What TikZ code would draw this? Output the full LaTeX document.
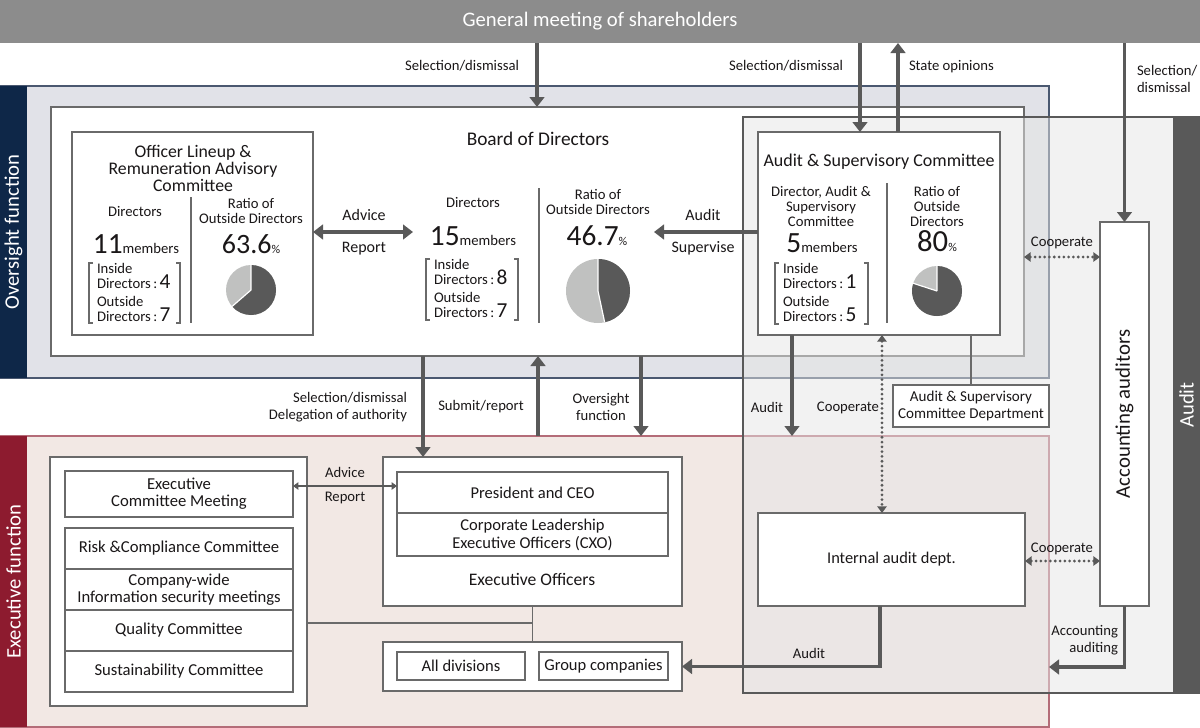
\documentclass[tikz,border=0pt]{standalone}
\usepackage{fontspec}
\setmainfont{Carlito}
\usetikzlibrary{arrows.meta}
\definecolor{gmgray}{HTML}{8C8C8C}
\definecolor{navy}{HTML}{0E2748}
\definecolor{ovfill}{HTML}{E1E2E8}
\definecolor{ovline}{HTML}{4A5870}
\definecolor{crimson}{HTML}{8D1B2F}
\definecolor{exfill}{HTML}{F2E8E4}
\definecolor{exline}{HTML}{B46C78}
\definecolor{darkg}{HTML}{595959}
\definecolor{boxline}{HTML}{6A6A6A}
\definecolor{pielight}{HTML}{C0C1C0}
\definecolor{txt}{HTML}{1A1718}
\definecolor{audfill}{HTML}{E6E6E6}
\newcommand\fz[2]{\fontsize{#1}{#2}\selectfont}
\newcommand\mkbox[7][]{\node[#1,minimum width={(#5-#3)*0.75pt},minimum height={(#6-#4)*0.75pt}] (#2) at ({(#3+#5)/2},{(#4+#6)/2}) {#7};}
\newcommand\mypie[4]{%
  \fill[pielight] (#1,#2) circle[radius=#3];
  \fill[darkg] (#1,#2) -- ++(-90:#3) arc[start angle=-90,end angle=#4,radius=#3] -- cycle;
  \draw[white,line width=0.9pt] (#1,#2) -- ++(-90:#3) (#1,#2) -- ++(#4:#3);}
\begin{document}
\begin{tikzpicture}[x=0.75pt,y=-0.75pt,
  every node/.style={inner sep=0pt,outer sep=0pt,text=txt},
  box/.style={draw=boxline,line width=0.9pt,fill=white},
  thinl/.style={draw=boxline,line width=0.9pt},
  lab/.style={font=\fz{11}{12.75}},
  labb/.style={font=\fz{12}{14}},
  lab2/.style={font=\fz{11}{11.25}},
  bigarr/.style={draw=darkg,line width=2.6pt,-{Triangle[length=7.5pt,width=11pt]}},
  bigarrb/.style={draw=darkg,line width=2.6pt,{Triangle[length=7.5pt,width=11pt]}-{Triangle[length=7.5pt,width=11pt]}},
  dotarr/.style={draw=darkg,line width=2.3pt,dash pattern=on 0pt off 3.6pt,line cap=round,{Triangle[length=5pt,width=7pt]}-{Triangle[length=5pt,width=7pt]}},
  thinarr/.style={draw=darkg,line width=0.8pt,{Triangle[length=4pt,width=5.5pt]}-{Triangle[length=4pt,width=5.5pt]}},
  rot/.style={rotate=90,font=\fz{15.5}{18}}]
\path[use as bounding box,fill=white] (0,0) rectangle (1200,728);
% x coordinates
\coordinate (x423) at (423,0);
\coordinate (x537) at (537,0);
\coordinate (x538) at (538,0);
\coordinate (x641) at (641,0);
\coordinate (x792) at (792,0);
\coordinate (x860) at (860,0);
\coordinate (x880) at (880,0);
\coordinate (x882) at (882,0);
\coordinate (x898) at (898,0);
\coordinate (x971) at (971,0);
\coordinate (y257) at (0,257);
\coordinate (y486) at (0,486);
\coordinate (y561) at (0,561);
\coordinate (y623) at (0,623);
\coordinate (y667) at (0,667);
% general meeting
\mkbox[fill=gmgray,text=white,font=\fz{15.5}{18}]{gm}{0}{0}{1200}{43}{General meeting of shareholders}
% regions
\mkbox[fill=ovfill,draw=ovline,line width=0.9pt]{ovreg}{0}{86}{1049}{378}{}
\mkbox[fill=navy]{ovband}{0}{86}{27}{378}{}
\node[rot,text=white] at (ovband) {Oversight function};
\mkbox[fill=exfill,draw=exline,line width=0.9pt]{exreg}{0}{436}{1049}{727}{}
\mkbox[fill=crimson]{exband}{0}{436}{27}{727}{}
\node[rot,text=white] at (exband) {Executive function};
% board of directors
\mkbox[box]{bod}{51}{107}{1024}{356}{}
\node[font=\fz{14.5}{17},anchor=base] at (538,145) {Board of Directors};
% officer lineup committee
\mkbox[box]{olr}{72}{132}{313}{335}{}
\node[font=\fz{13.3}{12.75},align=center] at (193,168) {Officer Lineup \&\\Remuneration Advisory\\Committee};
\node[lab2,anchor=base] at (135,216) {Directors};
\node[anchor=base] at (136,253) {\fz{22}{22}11\fz{11}{11}members};
\draw[thinl] (93,263) -- (89,263) -- (89,323) -- (93,323);
\draw[thinl] (176,263) -- (180,263) -- (180,323) -- (176,323);
\node[lab2,anchor=base west] at (97,273) {Inside};
\node[lab2,anchor=base west] at (97,288) {Directors\,:\,{\fz{16}{16}4}};
\node[lab2,anchor=base west] at (97,306) {Outside};
\node[lab2,anchor=base west] at (97,321) {Directors\,:\,{\fz{16}{16}7}};
\draw[thinl] (191,197) -- (191,323);
\node[lab2,align=center] at (251,211) {Ratio of\\Outside Directors};
\node[anchor=base] at (251,253) {\fz{21}{21}63.6\fz{9}{9}\%};
\mypie{251}{290}{25}{139}
% board centre
\node[lab2,anchor=base] at (473,207) {Directors};
\node[anchor=base] at (473,245) {\fz{22}{22}15\fz{11}{11}members};
\draw[thinl] (430,259) -- (426,259) -- (426,320) -- (430,320);
\draw[thinl] (514,259) -- (518,259) -- (518,320) -- (514,320);
\node[lab2,anchor=base west] at (434,269) {Inside};
\node[lab2,anchor=base west] at (434,284) {Directors\,:\,{\fz{16}{16}8}};
\node[lab2,anchor=base west] at (434,302) {Outside};
\node[lab2,anchor=base west] at (434,317) {Directors\,:\,{\fz{16}{16}7}};
\draw[thinl] (539,188) -- (539,323);
\node[lab2,align=center] at (598,202) {Ratio of\\Outside Directors};
\node[anchor=base] at (597,245) {\fz{22}{22}46.7\fz{9}{9}\%};
\mypie{598}{291}{32}{78}
% audit overlay region
\mkbox[fill=audfill,fill opacity=0.5,draw=darkg,line width=0.9pt]{audreg}{743}{117}{1200}{693}{}
\mkbox[fill=darkg]{audband}{1173}{117}{1200}{693}{}
\node[rot,text=white] at (audband) {Audit};
% audit & supervisory committee
\mkbox[box]{asc}{758}{132}{1000}{335}{}
\node[font=\fz{13.5}{16},anchor=base] at (879,166) {Audit \& Supervisory Committee};
\node[lab2,align=center] at (821,206) {Director, Audit \&\\Supervisory\\Committee};
\node[anchor=base] at (822,252) {\fz{22}{22}5\fz{11}{11}members};
\draw[thinl] (779,263) -- (775,263) -- (775,324) -- (779,324);
\draw[thinl] (864,263) -- (868,263) -- (868,324) -- (864,324);
\node[lab2,anchor=base west] at (783,273) {Inside};
\node[lab2,anchor=base west] at (783,288) {Directors\,:\,{\fz{16}{16}1}};
\node[lab2,anchor=base west] at (783,306) {Outside};
\node[lab2,anchor=base west] at (783,321) {Directors\,:\,{\fz{16}{16}5}};
\draw[thinl] (887,183) -- (887,323);
\node[lab2,align=center] at (937,206) {Ratio of\\Outside\\Directors};
\node[anchor=base] at (937,251) {\fz{23}{23}80\fz{9}{9}\%};
\mypie{937}{291}{25}{198}
% audit side boxes
\mkbox[box,font=\fz{11.3}{13},align=center]{dept}{893}{385}{1049}{427}{Audit \& Supervisory\\Committee Department}
\mkbox[box,font=\fz{12.3}{14}]{ia}{758}{513}{1025}{606}{Internal audit dept.}
\mkbox[box]{acc}{1100}{222}{1149}{606}{}
\node[rotate=90,font=\fz{15.6}{18}] at (acc) {Accounting auditors};
% executive function boxes
\mkbox[box]{lg}{50}{457}{307}{706}{}
\mkbox[box,font=\fz{12.5}{12.75},align=center]{ecm}{65}{471}{293}{517}{Executive\\Committee Meeting}
\mkbox[box,font=\fz{12.5}{13}]{rcc}{65}{528}{293}{569}{Risk \&Compliance Committee}
\mkbox[box,font=\fz{12.5}{13.2},align=center]{isc}{65}{569}{293}{610}{Company-wide\\Information security meetings}
\mkbox[box,font=\fz{12.5}{13}]{qc}{65}{610}{293}{651}{Quality Committee}
\mkbox[box,font=\fz{12.5}{13}]{sc}{65}{651}{293}{692}{Sustainability Committee}
\mkbox[box]{eo}{383}{457}{682}{606}{}
\mkbox[box,font=\fz{12.4}{13.5}]{pres}{397}{472}{668}{513}{President and CEO}
\mkbox[box,font=\fz{12.4}{13.5},align=center]{cxo}{397}{513}{668}{556}{Corporate Leadership\\Executive Officers (CXO)}
\node[font=\fz{13.2}{15},anchor=base] at (532,585) {Executive Officers};
\mkbox[box]{bot}{383}{642}{682}{691}{}
\mkbox[box,font=\fz{12.4}{13.5}]{alldiv}{397}{652}{525}{680}{All divisions}
\mkbox[box,font=\fz{12.4}{13.5}]{grp}{539}{652}{668}{680}{Group companies}
\draw[thinl] (lg.east |- y623) -- (eo.south |- y623);
\draw[thinl] (eo.south) -- (bot.north);
% connectors top
\draw[bigarr] (x537 |- gm.south) -- (x537 |- bod.north);
\draw[bigarr] (x860 |- gm.south) -- (x860 |- asc.north);
\draw[bigarr] (x898 |- asc.north) -- (x898 |- gm.south);
\draw[bigarr] (acc.north |- gm.south) -- (acc.north);
\node[lab,anchor=base east] at (519,70) {Selection/dismissal};
\node[lab,anchor=base east] at (843,70) {Selection/dismissal};
\node[lab,anchor=base west] at (909,70) {State opinions};
\node[lab,anchor=base west] at (1137,75) {Selection/};
\node[lab,anchor=base west] at (1137,92) {dismissal};
% board level arrows
\coordinate (advR) at (413,232);
\draw[bigarrb] (olr.east |- advR) -- (advR);
\node[labb,anchor=base] at (364,220) {Advice};
\node[labb,anchor=base] at (364,252) {Report};
\coordinate (audL) at (654,232);
\draw[bigarr] (asc.west |- audL) -- (audL);
\node[labb,anchor=base] at (703,220) {Audit};
\node[labb,anchor=base] at (703,252) {Supervise};
% board to executive
\draw[bigarr] (x423 |- bod.south) -- (x423 |- eo.north);
\draw[bigarr] (x538 |- exreg.north) -- (x538 |- bod.south);
\draw[bigarr] (x641 |- bod.south) -- (x641 |- exreg.north);
\node[lab,align=right,anchor=east] at (407,407) {Selection/dismissal\\Delegation of authority};
\node[lab] at (481,407) {Submit/report};
\node[lab,align=center] at (601,407) {Oversight\\function};
% audit connectors
\draw[bigarr] (x792 |- asc.south) -- (x792 |- exreg.north);
\node[lab] at (767,407) {Audit};
\draw[dotarr] (x882 |- asc.south) -- (x882 |- ia.north);
\node[lab,anchor=east] at (879,408) {Cooperate};
\draw[thinl] (x971 |- asc.south) -- (x971 |- dept.north);
\draw[dotarr] (bod.east |- y257) -- (acc.west |- y257);
\node[lab] at (1062,243) {Cooperate};
\draw[dotarr] (ia.east |- y561) -- (acc.west |- y561);
\node[lab] at (1062,549) {Cooperate};
\draw[bigarr] (acc.south) |- (exreg.east |- y667);
\node[lab,align=right,anchor=east] at (1118,640) {Accounting\\auditing};
\draw[bigarr] (x880 |- ia.south) |- (bot.east);
\node[lab] at (809,653) {Audit};
% executive advice
\draw[thinarr] (ecm.east |- y486) -- (pres.west |- y486);
\node[lab,anchor=base] at (345,477) {Advice};
\node[lab,anchor=base] at (345,501) {Report};
\end{tikzpicture}
\end{document}
